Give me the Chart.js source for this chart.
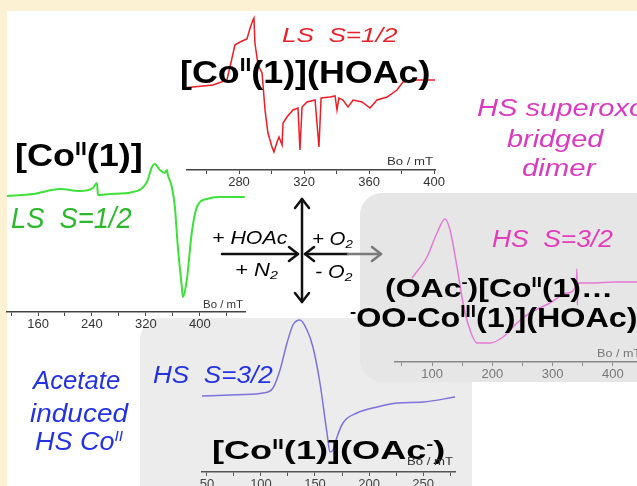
<!DOCTYPE html>
<html>
<head>
<meta charset="utf-8">
<script src="https://cdn.jsdelivr.net/npm/chart.js@4.4.1/dist/chart.umd.min.js"></script>
<style>
html, body { margin: 0; padding: 0; overflow: hidden; }
body { width: 637px; height: 486px; position: relative; background: #fff; font-family: "Liberation Sans", Arial, sans-serif; }
.frame { position: absolute; background: #fdf1d3; }
.box { position: absolute; border-radius: 22px; }
canvas { position: absolute; z-index: 2; }
.t { position: absolute; white-space: nowrap; line-height: 1; transform-origin: 0 0; z-index: 3; }
.b { font-weight: bold; color: #000; }
.i { font-style: italic; }
.sup { font-size: 58%; position: relative; top: -0.62em; }
.sub { font-size: 65%; position: relative; top: 0.3em; }
.ax { color: #333; }
</style>
</head>
<body>
<div class="frame" style="left:0;top:0;width:637px;height:11px"></div>
<div class="frame" style="left:0;top:0;width:7px;height:486px"></div>

<!-- nền xám sau hai phổ spin cao -->
<div class="box" style="left:140px;top:318px;width:332px;height:190px;background:#ececec;z-index:1"></div>
<div class="box" style="left:360px;top:193px;width:300px;height:189px;background:#e6e6e6;z-index:1"></div>

<canvas id="redChart"></canvas>
<canvas id="greenChart"></canvas>
<canvas id="pinkChart"></canvas>
<canvas id="blueChart"></canvas>

<!-- mũi tên phản ứng -->
<svg style="position:absolute;left:0;top:0;z-index:3" width="637" height="486">
  <g fill="none" stroke="#111" stroke-width="2.5" stroke-linecap="round" stroke-linejoin="round">
    <line x1="302" y1="199" x2="302" y2="302"/>
    <polyline points="295,208 302,199 309,208"/>
    <polyline points="295,293 302,302 309,293"/>
    <line x1="222" y1="254" x2="298" y2="254"/>
    <polyline points="289,247 298,254 289,261"/>
    <line x1="305" y1="254" x2="348" y2="254"/>
    <polyline points="314,247 305,254 314,261"/>
  </g>
  <g fill="none" stroke="#7a7a7a" stroke-width="2.5" stroke-linecap="round" stroke-linejoin="round">
    <line x1="348" y1="254" x2="381" y2="254"/>
    <polyline points="372,247 381,254 372,261"/>
  </g>
</svg>

<!-- chữ: data-l trái, data-c đỉnh chữ hoa, data-h chiều cao chữ hoa, data-w độ rộng -->
<div class="t i" style="color:#e8212b" data-l="282" data-c="28" data-h="15" data-w="116">LS&nbsp; S=1/2</div>
<div class="t b" data-l="180" data-c="60" data-h="23" data-w="250">[Co<span class="sup">II</span>(1)](HOAc)</div>
<div class="t b" data-l="15" data-c="145" data-h="22" data-w="128">[Co<span class="sup">II</span>(1)]</div>
<div class="t i" style="color:#2cb82c" data-l="11" data-c="207" data-h="21" data-w="121">LS&nbsp; S=1/2</div>

<div class="t i" data-l="212" data-c="232" data-h="12.5" data-w="76">+ HOAc</div>
<div class="t i" data-l="235" data-c="264" data-h="12.5" data-w="43">+ N<span class="sub">2</span></div>
<div class="t i" data-l="312" data-c="233" data-h="12.5" data-w="41">+ O<span class="sub">2</span></div>
<div class="t i" data-l="315" data-c="266" data-h="12.5" data-w="38">- O<span class="sub">2</span></div>

<div class="t i" style="color:#d83ac0" data-l="477" data-c="100" data-h="17" data-w="168">HS superoxo</div>
<div class="t i" style="color:#d83ac0" data-l="507" data-c="131" data-h="17" data-w="96">bridged</div>
<div class="t i" style="color:#d83ac0" data-l="522" data-c="160" data-h="17" data-w="73">dimer</div>
<div class="t i" style="color:#e23cba" data-l="492" data-c="231" data-h="17" data-w="121">HS&nbsp; S=3/2</div>
<div class="t b" data-l="385" data-c="278" data-h="19" data-w="228">(OAc<span class="sup">-</span>)[Co<span class="sup">II</span>(1)…</div>
<div class="t b" data-l="350" data-c="308" data-h="20" data-w="287"><span class="sup">-</span>OO-Co<span class="sup">III</span>(1)](HOAc)</div>

<div class="t i" style="color:#2432e2" data-l="153" data-c="367" data-h="17" data-w="120">HS&nbsp; S=3/2</div>
<div class="t b" data-l="212" data-c="440" data-h="19" data-w="233">[Co<span class="sup">II</span>(1)](OAc<span class="sup">-</span>)</div>
<div class="t i" style="color:#2432e2" data-l="33" data-c="371" data-h="18" data-w="87">Acetate</div>
<div class="t i" style="color:#2432e2" data-l="30" data-c="404" data-h="18" data-w="98">induced</div>
<div class="t i" style="color:#2432e2" data-l="35" data-c="432" data-h="18" data-w="88">HS Co<span class="sup">II</span></div>

<div class="t ax" data-l="387" data-c="157" data-h="8" data-w="46">Bo / mT</div>
<div class="t ax" data-l="203" data-c="300" data-h="8" data-w="40">Bo / mT</div>
<div class="t ax" style="color:#777" data-l="597" data-c="349" data-h="8" data-w="44">Bo / mT</div>
<div class="t ax" data-l="407" data-c="457" data-h="8" data-w="46">Bo / mT</div>

<script>
// Phổ EPR - trường từ (mT) và tín hiệu (đơn vị tùy ý)
const redField  = [245.5, 264, 272.6, 275.7, 277.5, 280.6, 284.9, 286.8, 288.6, 289.2, 289.8, 291.7, 294.2, 296, 297.8, 300.3, 301.5, 303.4, 304.6, 306.5, 307.1, 309.5, 313.2, 316.3, 317.5, 318.8, 321.8, 326.8, 329.2, 330.5, 336, 339.1, 340.3, 341.5, 344, 347.1, 350.2, 355.7, 360.6, 364.9, 371.1, 377.2, 380.9, 387.1, 400.6];
const redSignal = [9, 12, 17, 39, 52, 55, 58, 69, 77, 79, 54, 32, 24, -13, -36, -50, -55, -45, -40, -48, -26, -20, -13, -11, -53, -10, -5, -3, -50, -1, 0, 1, -13, -1, -3, -10, -3, -5, -11, -3, 0, 7, 15, 17, 17];
const redTicks  = [280, 320, 360, 400];

const greenField  = [114, 152.6, 192.6, 222, 241.5, 247.4, 248.9, 266.7, 300.7, 321.5, 329, 333, 340.7, 348, 351, 353, 358.5, 363, 367.4, 373.3, 374.8, 380.7, 388, 395.6, 410.4, 429.6, 466.7];
const greenSignal = [1, 3, 8, 6, 9, 14, 2, 3, 5, 15, 30, 33, 27, 24, 27, 21, 10, -10, -50, -90, -100, -83, -36, -10, -2, 0, 0];
const greenTicks  = [160, 240, 320, 400];

const pinkField  = [66.8, 91.7, 108.3, 121.6, 129.9, 141.5, 151.4, 163, 174.6, 196.2, 217.7, 241, 262.5, 295.7, 323.9, 339.5, 340.3, 341.1, 342, 362, 406.8, 440];
const pinkSignal = [5, 26, 50, 64, 53, 16, -20, -47, -60, -60, -54, -40, -30, -20, -10, -2, 14, -22, 0, 0, 1, 1];
const pinkTicks  = [100, 200, 300, 400];

const blueField  = [45.4, 71.3, 101.9, 111.1, 117.6, 124.1, 129.6, 136.1, 142.6, 148.1, 154.6, 161.1, 163.9, 166.7, 170.4, 175.9, 188.9, 207.4, 225.9, 250, 279.6];
const blueSignal = [1, 2, 4, 9, 27, 54, 72, 77, 67, 50, 14, -36, -55, -53, -40, -26, -16, -10, -6, -5, 0];
const blueTicks  = [50, 100, 150, 200, 250];

// Đặt các dòng chữ theo chiều cao chữ hoa và độ rộng
document.querySelectorAll('.t').forEach(el => {
  const h = +el.dataset.h, fs = h / 0.716;
  el.style.fontSize = fs + 'px';
  el.style.left = el.dataset.l + 'px';
  el.style.top = (+el.dataset.c - 0.1305 * fs) + 'px';
  el.style.display = 'inline-block';
  const w = el.offsetWidth;
  el.style.transform = 'scaleX(' + (+el.dataset.w / w) + ')';
});

// Vẽ một phổ trên canvas riêng
function drawSpectrum(id, box, field, signal, opt) {
  const padL = 20, padR = 20, axisH = 24;
  const cv = document.getElementById(id);
  cv.width = box.x1 - box.x0 + padL + padR;
  cv.height = box.axisY - box.top + axisH;
  cv.style.left = (box.x0 - padL) + 'px';
  cv.style.top = box.top + 'px';
  new Chart(cv, {
    type: 'line',
    data: {
      datasets: [{
        data: field.map((x, i) => ({ x: x, y: signal[i] })),
        borderColor: opt.color,
        borderWidth: opt.width,
        pointRadius: 0,
        fill: false,
        clip: false,
        tension: 0,
        cubicInterpolationMode: opt.smooth ? 'monotone' : 'default'
      }]
    },
    options: {
      responsive: false,
      animation: false,
      layout: { padding: { left: padL, right: padR, top: 0, bottom: 0 } },
      plugins: { legend: { display: false }, tooltip: { enabled: false } },
      scales: {
        x: {
          type: 'linear',
          min: opt.xMin,
          max: opt.xMax,
          afterFit: s => { s.height = axisH; },
          // vạch chia phụ giữa các nhãn
          afterBuildTicks: s => {
            const ticks = [];
            for (let v = Math.ceil(opt.xMin / opt.minor) * opt.minor; v <= opt.xMax; v += opt.minor) ticks.push({ value: v });
            s.ticks = ticks;
          },
          grid: { drawOnChartArea: false, drawTicks: true, tickLength: 4, color: opt.axisColor },
          border: { color: opt.axisColor, width: 1.5 },
          ticks: {
            autoSkip: false,
            maxRotation: 0,
            padding: 1,
            color: opt.labelColor,
            font: { family: 'Liberation Sans', size: 13 },
            callback: v => opt.labels.includes(v) ? v : ''
          }
        },
        y: { display: false, min: opt.yMin, max: opt.yMax }
      }
    }
  });
}

drawSpectrum('redChart', { x0: 187, x1: 435, axisY: 170, top: 5 }, redField, redSignal,
  { color: '#ee1c24', width: 1.5, smooth: false, xMin: 248, xMax: 400.6, yMin: -73, yMax: 92, minor: 20, labels: redTicks, axisColor: '#444', labelColor: '#333' });

drawSpectrum('greenChart', { x0: 7, x1: 245, axisY: 312, top: 140 }, greenField, greenSignal,
  { color: '#3ee03a', width: 2, smooth: true, xMin: 114, xMax: 467, yMin: -115, yMax: 57, minor: 40, labels: greenTicks, axisColor: '#444', labelColor: '#333' });

drawSpectrum('pinkChart', { x0: 395, x1: 637, axisY: 362, top: 200 }, pinkField, pinkSignal,
  { color: '#e57ad6', width: 1.5, smooth: true, xMin: 38.6, xMax: 440, yMin: -79, yMax: 83, minor: 50, labels: pinkTicks, axisColor: '#888', labelColor: '#777' });

drawSpectrum('blueChart', { x0: 202, x1: 455, axisY: 472, top: 305 }, blueField, blueSignal,
  { color: '#7b72dc', width: 1.5, smooth: true, xMin: 45.4, xMax: 279.6, yMin: -75, yMax: 92, minor: 25, labels: blueTicks, axisColor: '#555', labelColor: '#444' });
</script>
</body>
</html>
